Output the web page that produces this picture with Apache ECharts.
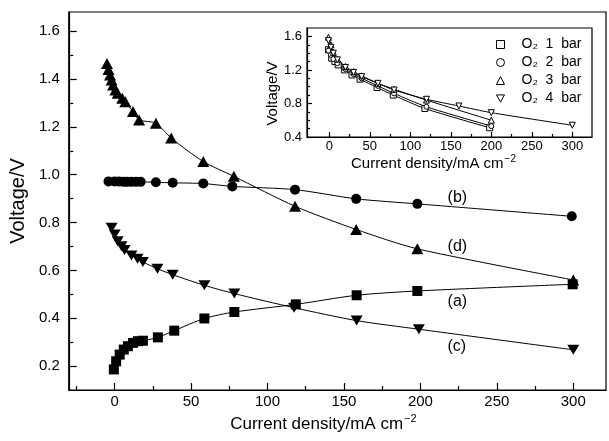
<!DOCTYPE html>
<html><head><meta charset="utf-8">
<script src="https://cdn.jsdelivr.net/npm/echarts@6/dist/echarts.min.js"></script>
<style>html,body{margin:0;padding:0;background:#fff}#c{width:609px;height:441px}</style>
</head><body><div id="c"></div>
<script>
// ---- main panel data (current density mA cm^-2, voltage V) ----
const curveA_x = [-0.5, 1, 3.3, 6, 8.7, 12, 15.3, 18.5, 28.3, 39, 58.7, 78.3, 118.5, 158.3, 198, 299.6];
const curveA_v = [0.186, 0.22, 0.248, 0.269, 0.283, 0.297, 0.304, 0.306, 0.32, 0.348, 0.399, 0.426, 0.458, 0.496, 0.514, 0.542];
const curveB_x = [-4, 0, 3, 6, 8, 11, 14, 17, 27, 38, 58, 77, 118, 158, 198, 299];
const curveB_v = [0.972, 0.972, 0.971, 0.97, 0.97, 0.97, 0.97, 0.97, 0.968, 0.966, 0.963, 0.951, 0.9375, 0.899, 0.878, 0.826];
const curveC_x = [-2, 0, 2, 4.5, 6.5, 11, 15, 18.5, 28, 38, 58.7, 78.3, 117.4, 158.3, 199, 300];
const curveC_v = [0.778, 0.75, 0.722, 0.701, 0.685, 0.6625, 0.649, 0.635, 0.607, 0.582, 0.5375, 0.503, 0.444, 0.39, 0.354, 0.268];
const curveD_x = [-5, -4, -3, -2, -1, 0.5, 2, 5, 7, 12, 16, 27, 37, 58, 78, 118, 158, 198, 300];
const curveD_v = [1.465, 1.44, 1.417, 1.396, 1.375, 1.354, 1.34, 1.32, 1.305, 1.264, 1.229, 1.215, 1.153, 1.055, 0.993, 0.868, 0.771, 0.69, 0.56];
const curveLabels = ['(a)', '(b)', '(c)', '(d)'];

// ---- inset data ----
const o2bar1_x = [-1, 3, 7, 11, 19, 28, 38, 59, 79, 118, 198];
const o2bar1_v = [1.44, 1.34, 1.30, 1.26, 1.2, 1.14, 1.09, 0.99, 0.9, 0.74, 0.51];
const o2bar2_x = [-1, 2, 5, 10, 20, 30, 40, 60, 80, 120, 200];
const o2bar2_v = [1.43, 1.38, 1.33, 1.28, 1.21, 1.15, 1.10, 1.01, 0.92, 0.76, 0.53];
const o2bar3_x = [-1, 2, 5, 10, 20, 30, 40, 60, 80, 120, 200];
const o2bar3_v = [1.59, 1.50, 1.41, 1.33, 1.24, 1.18, 1.13, 1.04, 0.97, 0.84, 0.60];
const o2bar4_x = [-1, 2, 5, 10, 20, 30, 40, 60, 80, 120, 160, 200, 300];
const o2bar4_v = [1.55, 1.47, 1.40, 1.32, 1.23, 1.17, 1.12, 1.04, 0.96, 0.85, 0.77, 0.69, 0.54];
const legendNames = ['O₂  1  bar', 'O₂  2  bar', 'O₂  3  bar', 'O₂  4  bar'];

// ---- tick values ----
const mainXTicks = [0, 50, 100, 150, 200, 250, 300];
const mainXMinor = [-25, 25, 75, 125, 175, 225, 275];
const mainYTicks = [0.2, 0.4, 0.6, 0.8, 1.0, 1.2, 1.4, 1.6];
const mainYMinor = [0.3, 0.5, 0.7, 0.9, 1.1, 1.3, 1.5];
const insetXTicks = [0, 50, 100, 150, 200, 250, 300];
const insetXMinor = [25, 75, 125, 175, 225, 275];
const insetYTicks = [0.4, 0.8, 1.2, 1.6];
const insetYMinor = [0.5, 0.6, 0.7, 0.9, 1.0, 1.1, 1.3, 1.4, 1.5];

const FONT = 'Liberation Sans';
const zip = (xs, vs) => xs.map((x, i) => [x, vs[i]]);
const downTri = 'path://M0,0 L10,0 L5,9 Z';

function withLabel(xs, vs, idx, text, offset) {
  return xs.map((x, i) => {
    const item = { value: [x, vs[i]] };
    if (i === idx) {
      item.label = { show: true, formatter: text, position: 'inside', offset: offset,
        color: '#000', fontSize: 16, fontFamily: FONT };
    }
    return item;
  });
}

function valueAxis(gridIndex, min, max, ticks, len, showLabel, labelOpt, extra) {
  return Object.assign({
    type: 'value', gridIndex, min, max,
    axisLine: { show: showLabel, onZero: false, lineStyle: { color: '#000', width: 1.2 } },
    axisTick: { show: true, inside: true, length: len, customValues: ticks, lineStyle: { color: '#000', width: 1.2 } },
    axisLabel: Object.assign({ show: showLabel, customValues: ticks, color: '#000', fontFamily: FONT }, labelOpt || {}),
    splitLine: { show: false }
  }, extra || {});
}

const xNameRich = (size, supSize) => ({
  a: { fontSize: size, fontFamily: FONT, color: '#000' },
  s: { fontSize: supSize, fontFamily: FONT, color: '#000', padding: [0, 0, size * 0.6, 1] }
});

const lineSeries = (name, data, symbol, size, xi, yi, filled, extra) => Object.assign({
  name, type: 'line', data, xAxisIndex: xi, yAxisIndex: yi,
  symbol, symbolSize: size, smooth: 0.25,
  lineStyle: { color: '#000', width: 1 },
  itemStyle: filled ? { color: '#000' } : { color: '#fff', borderColor: '#000', borderWidth: 1 },
  emphasis: { disabled: true }, animation: false
}, extra || {});

const chart = echarts.init(document.getElementById('c'), null, { renderer: 'canvas' });
chart.setOption({
  animation: false,
  backgroundColor: '#fff',
  grid: [
    { left: 67, top: 12, width: 539, height: 378, show: true, borderColor: '#000', borderWidth: 1.2, backgroundColor: 'transparent' },
    { left: 307, top: 28, width: 285, height: 109, show: true, borderColor: '#000', borderWidth: 1.2, backgroundColor: '#fff' }
  ],
  xAxis: [
    valueAxis(0, -30, 321.4, mainXTicks, 7, true, { fontSize: 15, margin: 4 }, {
      position: 'bottom',
      name: '{a|Current density/mA cm}{s|−2}', nameLocation: 'middle', nameGap: 23,
      nameTextStyle: { rich: xNameRich(17, 11), padding: [0, 28, 0, 0] }
    }),
    valueAxis(0, -30, 321.4, mainXMinor, 4, false, {}, { position: 'bottom' }),
    valueAxis(1, -27.5, 324.3, insetXTicks, 5, true, { fontSize: 13, margin: 3 }, {
      position: 'bottom',
      name: '{a|Current density/mA cm}{s|−2}', nameLocation: 'middle', nameGap: 12,
      nameTextStyle: { rich: xNameRich(15, 10), padding: [0, 32, 0, 0] }
    }),
    valueAxis(1, -27.5, 324.3, insetXMinor, 3, false, {}, { position: 'bottom' })
  ],
  yAxis: [
    valueAxis(0, 0.1, 1.68, mainYTicks, 8, true, { fontSize: 15, margin: 9, formatter: v => v.toFixed(1) }, {
      position: 'left', name: 'Voltage/V', nameLocation: 'middle', nameGap: 37,
      nameTextStyle: { fontSize: 20, fontFamily: FONT, color: '#000' }
    }),
    valueAxis(0, 0.1, 1.68, mainYMinor, 4.5, false, {}, { position: 'left' }),
    valueAxis(1, 0.4, 1.7, insetYTicks, 5, true, { fontSize: 13, margin: 5, formatter: v => v.toFixed(1) }, {
      position: 'left', name: 'Voltage/V', nameLocation: 'middle', nameGap: 27,
      nameTextStyle: { fontSize: 15, fontFamily: FONT, color: '#000', padding: [0, 22, 0, 0] }
    }),
    valueAxis(1, 0.4, 1.7, insetYMinor, 3, false, {}, { position: 'left' })
  ],
  legend: {
    left: 491, top: 32, orient: 'vertical', itemGap: 3, itemWidth: 8, itemHeight: 8,
    data: [
      { name: legendNames[0], icon: 'rect' },
      { name: legendNames[1], icon: 'circle' },
      { name: legendNames[2], icon: 'triangle' },
      { name: legendNames[3], icon: downTri }
    ],
    textStyle: { fontSize: 14, fontFamily: FONT, color: '#000', lineHeight: 15, padding: [0, 0, 0, 12] },
    itemStyle: { color: '#fff', borderColor: '#000', borderWidth: 1 },
    selectedMode: false
  },
  series: [
    lineSeries('a', withLabel(curveA_x, curveA_v, 14, curveLabels[0], [40, 11]), 'rect', 10, 0, 0, true),
    lineSeries('b', withLabel(curveB_x, curveB_v, 14, curveLabels[1], [40, -6]), 'circle', 10, 0, 0, true),
    lineSeries('c', withLabel(curveC_x, curveC_v, 14, curveLabels[2], [38, 17]), downTri, [12, 10], 0, 0, true),
    lineSeries('d', withLabel(curveD_x, curveD_v, 17, curveLabels[3], [40, -2]), 'triangle', [12, 11], 0, 0, true),
    lineSeries(legendNames[0], zip(o2bar1_x, o2bar1_v), 'rect', 6, 2, 2, false),
    lineSeries(legendNames[1], zip(o2bar2_x, o2bar2_v), 'circle', 5, 2, 2, false),
    lineSeries(legendNames[2], zip(o2bar3_x, o2bar3_v), 'triangle', 6, 2, 2, false),
    lineSeries(legendNames[3], zip(o2bar4_x, o2bar4_v), downTri, 6, 2, 2, false)
  ]
});
</script>
</body></html>
